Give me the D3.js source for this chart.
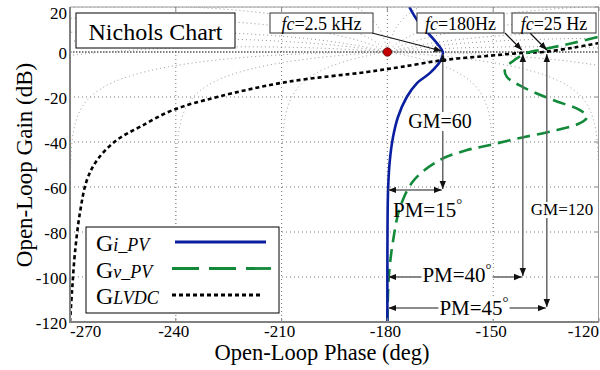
<!DOCTYPE html>
<html>
<head>
<meta charset="utf-8">
<script src="https://cdn.jsdelivr.net/npm/d3@7"></script>
<style>
  body { margin: 0; background: #fff; }
  text { font-family: "Liberation Serif", "DejaVu Serif", serif; }
</style>
</head>
<body>
<div id="chart"></div>
<script>
// ---- data ----
var phaseTicks = [-270, -240, -210, -180, -150, -120];
var gainTicks = [20, 0, -20, -40, -60, -80, -100, -120];

var iPvPhase = [-173.8, -171.5, -168.5, -165.5, -164.3, -164.8, -167.9, -171.6, -174.5, -177, -178.4, -179.3, -179.8, -180, -180];
var iPvGain  = [20, 14, 8.5, 3, 0, -3.5, -9.3, -13.8, -20, -28.9, -37.8, -48, -61, -90, -120];

var vPvPhase = [-180, -179.6, -178.4, -176.4, -172.5, -165.1, -157.4, -150.9, -142.4, -131.9, -125.4, -123.4, -125.4, -133.1, -141.6, -146.1, -146.7, -144.7, -140.4, -136.7, -127.4, -120];
var vPvGain  = [-120, -100, -84, -69, -57, -48, -43.6, -41.3, -38.2, -34.7, -31.6, -28.9, -25.8, -21.3, -15.6, -11.1, -8, -4.4, -0.4, 0.9, 4, 6.8];

var lvdcPhase = [-270, -269.4, -268.6, -267.2, -265.2, -262.3, -256.7, -250.2, -240.8, -228.3, -208.5, -185.8, -176.4, -164.2, -152, -141.6, -135.9, -127, -120];
var lvdcGain  = [-120, -105.8, -89.3, -71.6, -56.9, -48, -39.1, -33.3, -25.8, -20, -13.3, -8.9, -6.7, -3.6, -1.8, -0.4, 0, 2, 4];

// crossing points, margins
var fcLabels = ["2.5 kHz", "180Hz", "25 Hz"];
var fcPhase = [-164.3, -141.6, -134.8];
var gmLabels = ["GM=60", "GM=120"];
var pmLabels = ["PM=15", "PM=40", "PM=45"];
var pmGain = [-61.3, -100, -113.8];

// Nichols grid: closed-loop phase contours (deg)
var phContours = [-1, -5, -10, -20, -30, -50, -90, -120, -150, -180, -210, -240, -270, -310, -330, -340, -350, -355, -359];

var legendNames = [["G", "i_PV"], ["G", "v_PV"], ["G", "LVDC"]];

// ---- layout ----
var width = 600, height = 370;
var x = d3.scaleLinear().domain([-270, -120]).range([70, 599]);
var y = d3.scaleLinear().domain([20, -120]).range([7, 322]);

var svg = d3.select('#chart').append('svg')
    .attr('width', width)
    .attr('height', height);

var defs = svg.append('defs');
defs.append('clipPath').attr('id', 'plotclip')
    .append('rect')
    .attr('x', 70).attr('y', 7)
    .attr('width', 529).attr('height', 315);

defs.append('marker')
    .attr('id', 'arr')
    .attr('viewBox', '0 0 10 10')
    .attr('refX', 10).attr('refY', 5)
    .attr('markerWidth', 8).attr('markerHeight', 8)
    .attr('markerUnits', 'userSpaceOnUse')
    .attr('orient', 'auto-start-reverse')
    .append('path')
    .attr('d', 'M0,1 L10,5 L0,9 Z')
    .attr('fill', '#111');

var plot = svg.append('g').attr('clip-path', 'url(#plotclip)');

// ---- grid ----
phaseTicks.forEach(function (p) {
    plot.append('line')
        .attr('x1', x(p)).attr('x2', x(p))
        .attr('y1', y(20)).attr('y2', y(-120))
        .attr('stroke', '#777').attr('stroke-width', 1)
        .attr('stroke-dasharray', '1,3');
});
gainTicks.forEach(function (g) {
    plot.append('line')
        .attr('x1', x(-270)).attr('x2', x(-120))
        .attr('y1', y(g)).attr('y2', y(g))
        .attr('stroke', g === 0 ? '#000' : '#777').attr('stroke-width', 1)
        .attr('stroke-dasharray', g === 0 ? '1.5,1.5' : '1,3');
});

function toNichols(a, b) {
    var dr = 1 - a, di = -b;
    var den = dr * dr + di * di;
    var re = (a - a * a - b * b) / den;
    var im = b / den;
    var p = Math.atan2(im, re) * 180 / Math.PI;
    if (p > 0) p -= 360;
    return [p, 20 * Math.log10(Math.sqrt(re * re + im * im))];
}

function splitSegs(pts) {
    var segs = [], cur = [];
    pts.forEach(function (pt) {
        if (!isFinite(pt[1]) || (cur.length && Math.abs(pt[0] - cur[cur.length - 1][0]) > 90)) {
            if (cur.length > 1) segs.push(cur);
            cur = [];
        }
        if (isFinite(pt[1])) cur.push(pt);
    });
    if (cur.length > 1) segs.push(cur);
    return segs;
}

var gridLine = d3.line()
    .x(function (d) { return x(d[0]); })
    .y(function (d) { return y(Math.max(-200, Math.min(60, d[1]))); });

var contourSegs = [];
phContours.forEach(function (ph) {
    var r0 = ph * Math.PI / 180, pts = [];
    for (var k = 0; k <= 1200; k++) {
        var r = Math.pow(10, -4 + 8 * k / 1200);
        pts.push(toNichols(r * Math.cos(r0), r * Math.sin(r0)));
    }
    contourSegs = contourSegs.concat(splitSegs(pts));
});

plot.selectAll('.ngrid')
    .data(contourSegs)
    .enter().append('path')
    .attr('class', 'ngrid')
    .attr('d', gridLine)
    .attr('fill', 'none')
    .attr('stroke', '#888')
    .attr('stroke-width', 0.9)
    .attr('stroke-dasharray', '1,3');

// ---- frame ----
svg.append('line').attr('x1', 70).attr('x2', 599).attr('y1', 7).attr('y2', 7)
    .attr('stroke', '#999').attr('stroke-width', 1);
svg.append('line').attr('x1', 598.5).attr('x2', 598.5).attr('y1', 7).attr('y2', 322)
    .attr('stroke', '#999').attr('stroke-width', 1);
svg.append('line').attr('x1', 69).attr('x2', 599).attr('y1', 322).attr('y2', 322)
    .attr('stroke', '#808080').attr('stroke-width', 2);
svg.append('line').attr('x1', 70).attr('x2', 70).attr('y1', 7).attr('y2', 323)
    .attr('stroke', '#808080').attr('stroke-width', 2);

// small inner ticks
phaseTicks.forEach(function (p) {
    svg.append('line').attr('x1', x(p)).attr('x2', x(p)).attr('y1', 7).attr('y2', 11)
        .attr('stroke', '#888');
    svg.append('line').attr('x1', x(p)).attr('x2', x(p)).attr('y1', 322).attr('y2', 318)
        .attr('stroke', '#888');
});
gainTicks.forEach(function (g) {
    svg.append('line').attr('x1', 595).attr('x2', 599).attr('y1', y(g)).attr('y2', y(g))
        .attr('stroke', '#888');
});

// ---- tick labels ----
var nX = phaseTicks.length;
svg.selectAll('.xt')
    .data(phaseTicks)
    .enter().append('text')
    .attr('class', 'xt')
    .attr('x', function (d, i) { return i === 0 ? 70 : (i === nX - 1 ? 599 : x(d) - 2); })
    .attr('y', 337)
    .attr('text-anchor', function (d, i) { return i === 0 ? 'start' : (i === nX - 1 ? 'end' : 'middle'); })
    .attr('font-size', 17)
    .text(function (d) { return d; });

svg.selectAll('.yt')
    .data(gainTicks)
    .enter().append('text')
    .attr('class', 'yt')
    .attr('x', 67)
    .attr('y', function (d, i) { return i === 0 ? 19 : y(d) + 7; })
    .attr('text-anchor', 'end')
    .attr('font-size', 17)
    .text(function (d) { return d; });

svg.append('text')
    .attr('x', 322).attr('y', 360)
    .attr('text-anchor', 'middle')
    .attr('font-size', 22.5)
    .text('Open-Loop Phase (deg)');

svg.append('text')
    .attr('transform', 'translate(32,165) rotate(-90)')
    .attr('text-anchor', 'middle')
    .attr('font-size', 23)
    .text('Open-Loop Gain (dB)');

// ---- curves ----
function pairs(px, py) {
    return px.map(function (p, i) { return [p, py[i]]; });
}
var curve = d3.line()
    .x(function (d) { return x(d[0]); })
    .y(function (d) { return y(d[1]); })
    .curve(d3.curveCatmullRom.alpha(0.5));

plot.append('path')
    .attr('d', curve(pairs(lvdcPhase, lvdcGain)))
    .attr('fill', 'none').attr('stroke', '#000')
    .attr('stroke-width', 2.6).attr('stroke-dasharray', '4,3');

plot.append('path')
    .attr('d', curve(pairs(vPvPhase, vPvGain)))
    .attr('fill', 'none').attr('stroke', '#128a3a')
    .attr('stroke-width', 2.6).attr('stroke-dasharray', '13,7');

plot.append('path')
    .attr('d', curve(pairs(iPvPhase, iPvGain)))
    .attr('fill', 'none').attr('stroke', '#0a1fa0')
    .attr('stroke-width', 2.6);

// critical point
svg.append('circle')
    .attr('cx', x(-180)).attr('cy', y(0)).attr('r', 4.2)
    .attr('fill', '#c40000').attr('stroke', '#5a0000').attr('stroke-width', 0.8);

// ---- GM / PM annotations ----
function labelBox(t) {
    var bb = t.node().getBBox();
    svg.insert('rect', function () { return t.node(); })
        .attr('x', bb.x - 1).attr('y', bb.y + 2)
        .attr('width', bb.width + 2).attr('height', bb.height - 3)
        .attr('fill', '#fff');
}
var ann = svg.append('g');
fcPhase.forEach(function (p, i) {
    ann.append('line')
        .attr('x1', x(p)).attr('x2', x(p))
        .attr('y1', y(pmGain[i]) - 1).attr('y2', y(0) + 2)
        .attr('stroke', '#666').attr('stroke-width', 1.5)
        .attr('marker-start', 'url(#arr)').attr('marker-end', 'url(#arr)');
    ann.append('line')
        .attr('x1', x(-180) + 1).attr('x2', x(p) - 1)
        .attr('y1', y(pmGain[i])).attr('y2', y(pmGain[i]))
        .attr('stroke', '#666').attr('stroke-width', 1.5)
        .attr('marker-start', 'url(#arr)').attr('marker-end', 'url(#arr)');
});

var gm60 = svg.append('text').attr('x', 440).attr('y', 128)
    .attr('text-anchor', 'middle').attr('font-size', 20).text(gmLabels[0]);
labelBox(gm60);
var gm120 = svg.append('text').attr('x', 562).attr('y', 215)
    .attr('text-anchor', 'middle').attr('font-size', 17).text(gmLabels[1]);
labelBox(gm120);

var pmPos = [[393, 217, 'start'], [457, 282, 'middle'], [474, 315, 'middle']];
pmLabels.forEach(function (s, i) {
    var t = svg.append('text')
        .attr('x', pmPos[i][0]).attr('y', pmPos[i][1])
        .attr('text-anchor', pmPos[i][2])
        .attr('font-size', 21);
    t.append('tspan').text(s);
    t.append('tspan').attr('font-size', 15).attr('dy', -8).text('\u00b0');
    if (i > 0) labelBox(t);
});

// ---- callouts ----
function callout(x0, y0, w, h, label, tx, ty, ax, ay) {
    svg.append('line')
        .attr('x1', ax).attr('y1', ay)
        .attr('x2', tx).attr('y2', ty)
        .attr('stroke', '#111').attr('stroke-width', 1.2)
        .attr('marker-end', 'url(#arr)');
    svg.append('rect')
        .attr('x', x0).attr('y', y0).attr('width', w).attr('height', h)
        .attr('fill', '#fff').attr('stroke', '#333').attr('stroke-width', 1);
    var t = svg.append('text')
        .attr('x', x0 + w / 2).attr('y', y0 + 17)
        .attr('text-anchor', 'middle')
        .attr('font-size', 18);
    t.append('tspan').attr('font-style', 'italic').text('fc');
    t.append('tspan').text('=' + label);
}
callout(270, 13, 103, 20, fcLabels[0], x(fcPhase[0]) - 1, y(0) - 1, 372, 33);
callout(417, 13, 87, 20, fcLabels[1], x(fcPhase[1]) - 1, y(0) - 2, 505, 33);
callout(512, 13, 84, 20, fcLabels[2], x(fcPhase[2]), y(0) - 2, 530, 33);

// title box
svg.append('rect')
    .attr('x', 76).attr('y', 13).attr('width', 159).attr('height', 35)
    .attr('fill', '#fff').attr('stroke', '#000').attr('stroke-width', 1);
svg.append('text')
    .attr('x', 155.5).attr('y', 40)
    .attr('text-anchor', 'middle')
    .attr('font-size', 24)
    .text('Nichols Chart');

// ---- legend ----
var legend = svg.append('g');
legend.append('rect')
    .attr('x', 86).attr('y', 227).attr('width', 193).attr('height', 86)
    .attr('fill', '#fff').attr('stroke', '#000').attr('stroke-width', 1);

var legendStyle = [
    { color: '#0a1fa0', dash: null, x1: 175, x2: 266 },
    { color: '#128a3a', dash: '27,10', x1: 172, x2: 271 },
    { color: '#000', dash: '4,3', x1: 172, x2: 262 }
];
legendNames.forEach(function (n, i) {
    var yy = 251 + i * 26.5;
    var t = legend.append('text')
        .attr('x', 96).attr('y', yy)
        .attr('font-size', 24);
    t.append('tspan').text(n[0]);
    t.append('tspan').attr('font-style', 'italic').attr('font-size', 18).text(n[1]);
    legend.append('line')
        .attr('x1', legendStyle[i].x1).attr('x2', legendStyle[i].x2)
        .attr('y1', yy - 9).attr('y2', yy - 9)
        .attr('stroke', legendStyle[i].color)
        .attr('stroke-width', 2.8)
        .attr('stroke-dasharray', legendStyle[i].dash);
});
</script>
</body>
</html>
